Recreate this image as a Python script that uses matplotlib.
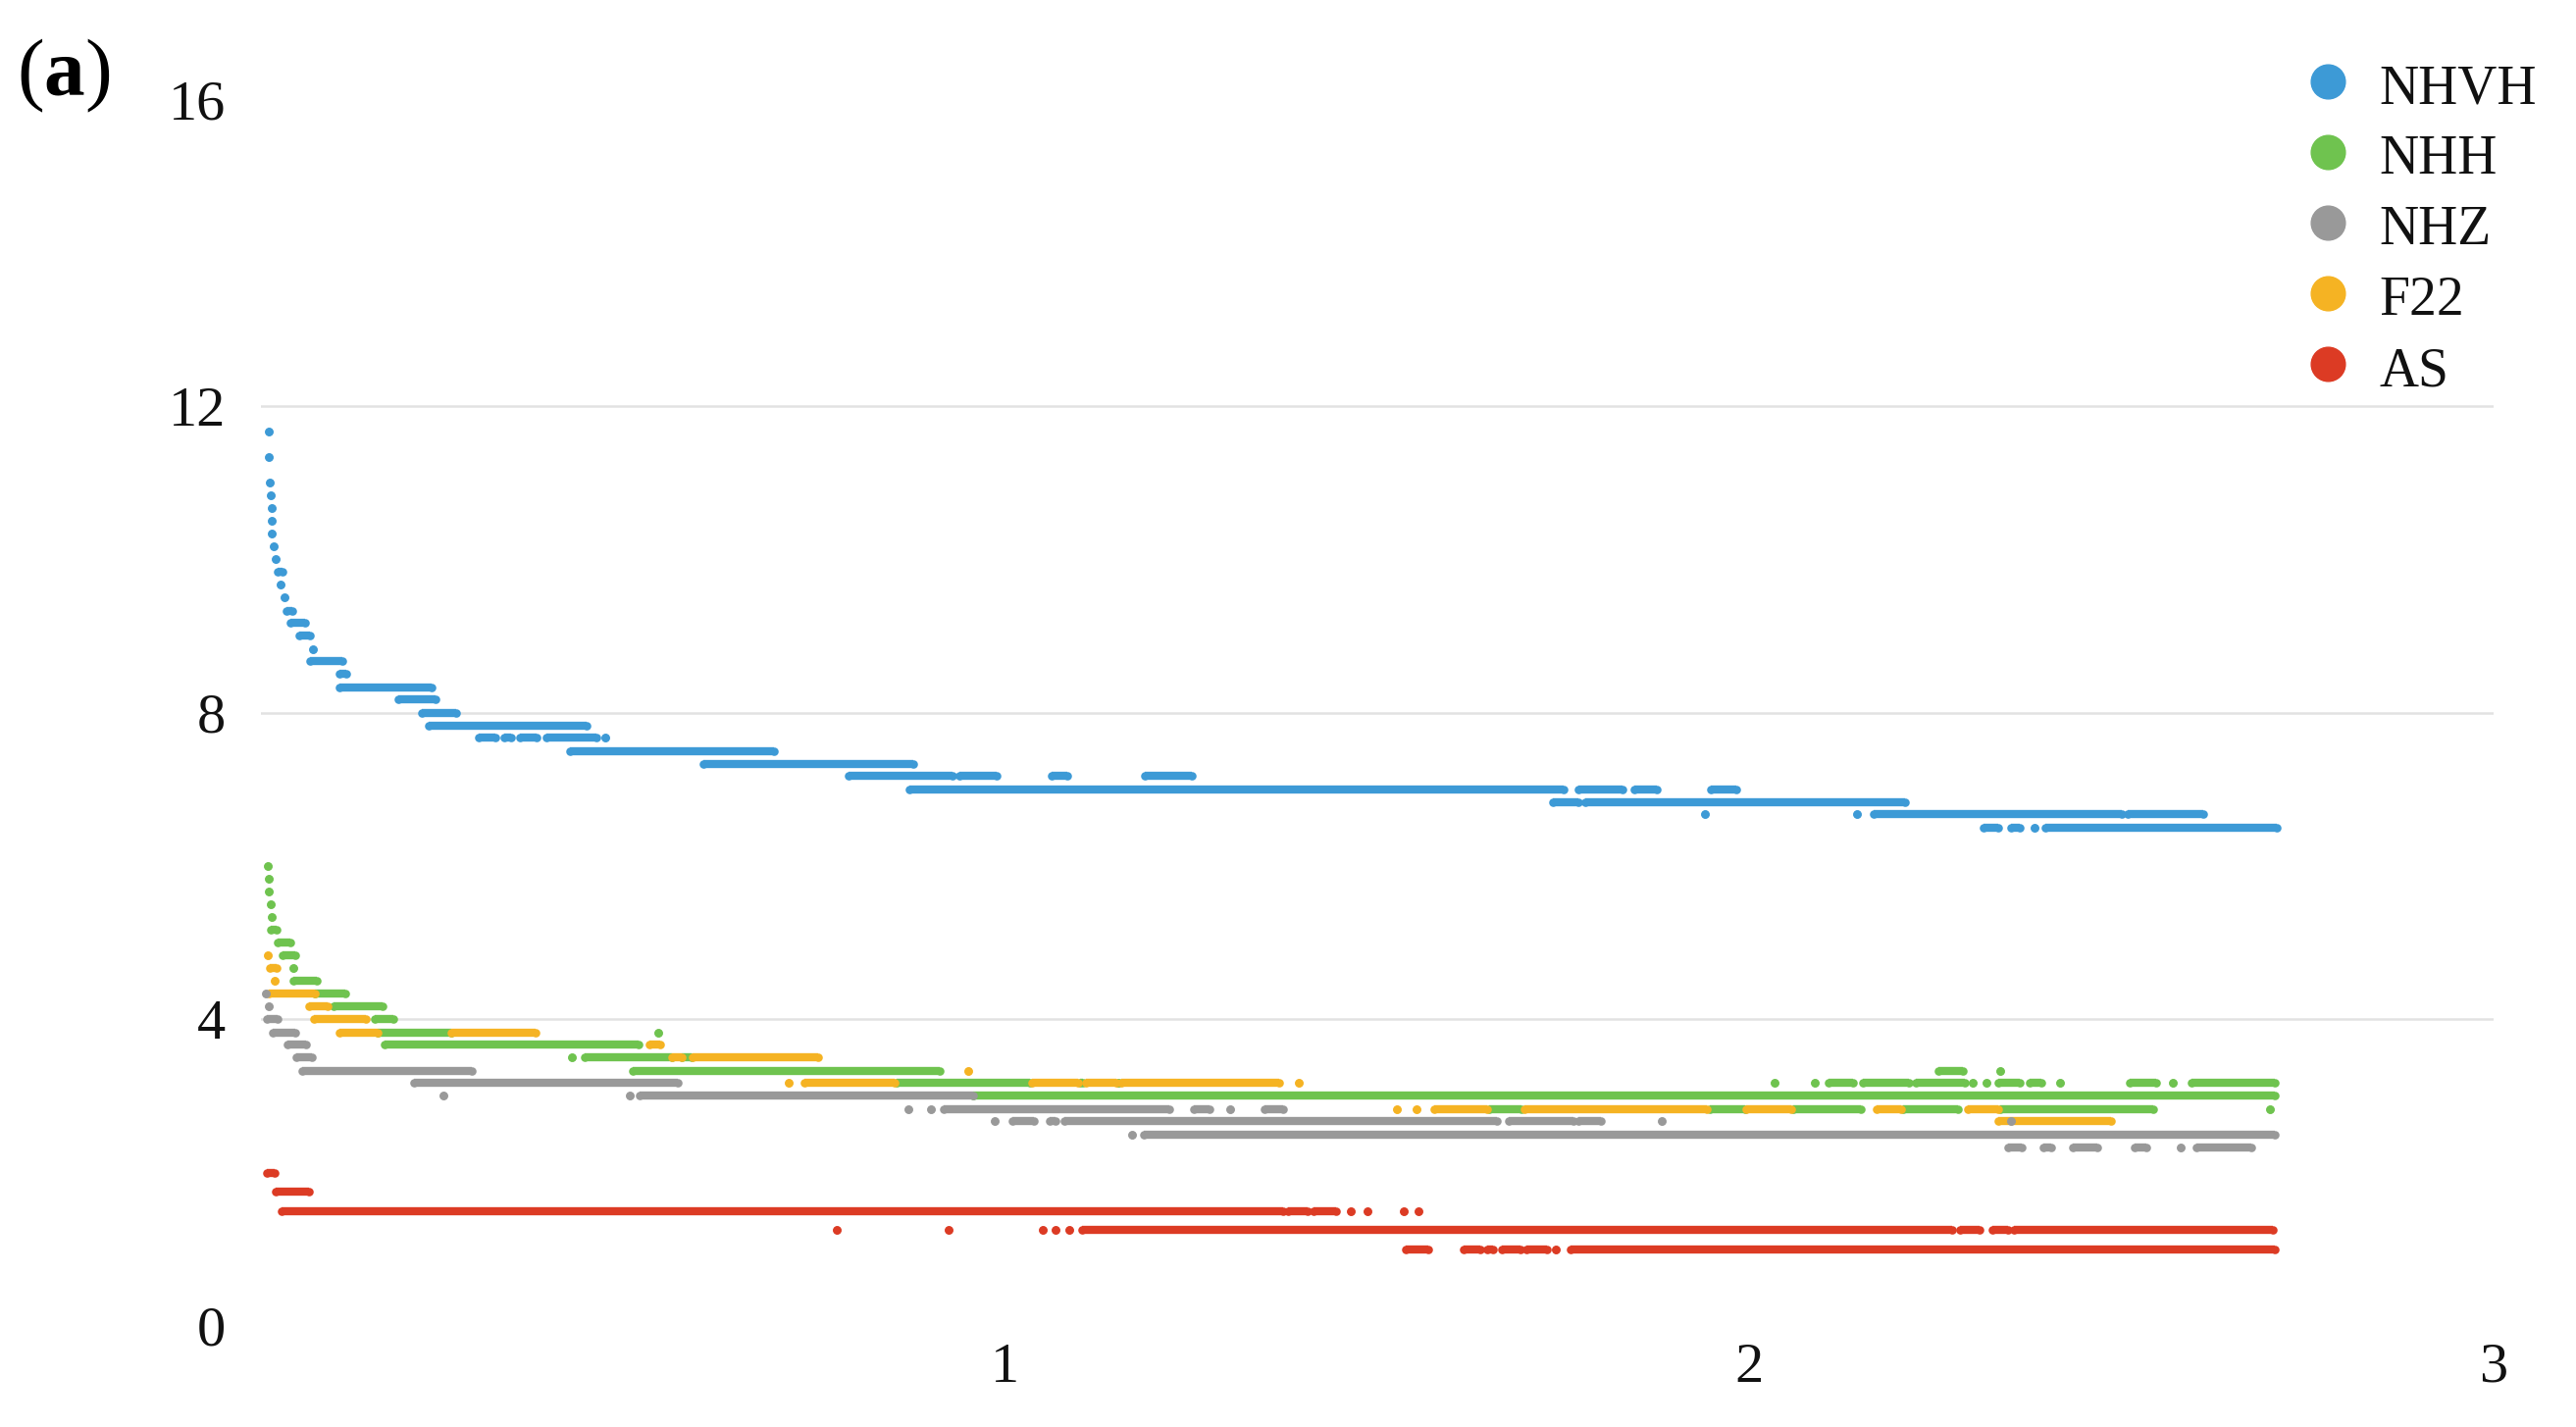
import matplotlib
matplotlib.use("Agg")
import matplotlib.pyplot as plt
from matplotlib.lines import Line2D

plt.rcParams['font.family'] = ['Liberation Serif', 'DejaVu Serif']
plt.rcParams['mathtext.fontset'] = 'custom'
plt.rcParams['mathtext.rm'] = 'Liberation Serif'
plt.rcParams['mathtext.bf'] = 'Liberation Serif:bold'

# each series is a set of horizontal runs of dots: level y, from x0 to x1
NHVH_Y = [11.67, 11.33, 11.0, 10.83, 10.67, 10.5, 10.33, 10.17, 10.0, 9.83, 9.67, 9.5,
          9.33, 9.17, 9.0, 8.83, 8.67, 8.5, 8.33, 8.17, 8.0, 7.83,
          7.67, 7.67, 7.67, 7.67, 7.67, 7.5, 7.33,
          7.17, 7.17, 7.17, 7.17, 7.0, 7.0, 7.0, 7.0, 6.83, 6.83,
          6.67, 6.67, 6.67, 6.67, 6.5, 6.5, 6.5, 6.5]
NHVH_X0 = [0.010, 0.010, 0.012, 0.013, 0.014, 0.014, 0.015, 0.017, 0.020, 0.022, 0.026, 0.031,
           0.034, 0.040, 0.052, 0.070, 0.066, 0.106, 0.106, 0.185, 0.216, 0.225,
           0.292, 0.327, 0.348, 0.383, 0.463, 0.415, 0.595,
           0.790, 0.938, 1.062, 1.188, 0.871, 1.770, 1.846, 1.948, 1.736, 1.780,
           1.940, 2.144, 2.167, 2.508, 2.314, 2.352, 2.383, 2.398]
NHVH_X1 = [0.010, 0.010, 0.012, 0.013, 0.014, 0.014, 0.015, 0.017, 0.020, 0.029, 0.026, 0.031,
           0.042, 0.059, 0.066, 0.070, 0.110, 0.115, 0.230, 0.235, 0.262, 0.438,
           0.315, 0.336, 0.371, 0.451, 0.463, 0.690, 0.877,
           0.929, 0.989, 1.083, 1.251, 1.751, 1.830, 1.876, 1.982, 1.770, 2.209,
           1.940, 2.144, 2.500, 2.610, 2.334, 2.364, 2.383, 2.709]

NHH_Y = [6.0, 5.83, 5.67, 5.5, 5.33, 5.17, 5.0, 4.83, 4.67, 4.5, 4.33, 4.17, 4.0,
         3.83, 3.83, 3.67, 3.5, 3.5, 3.5, 3.33, 3.33, 3.33,
         3.17, 3.17, 3.17, 3.17, 3.17, 3.17, 3.17, 3.17, 3.17, 3.17, 3.17, 3.17, 3.17,
         3.17, 3.17, 3.17, 3.0,
         2.83, 2.83, 2.83, 2.83, 2.83, 2.83]
NHH_X0 = [0.009, 0.010, 0.010, 0.013, 0.015, 0.013, 0.022, 0.029, 0.044, 0.044, 0.073, 0.098, 0.153,
          0.157, 0.534, 0.166, 0.418, 0.435, 0.566, 0.500, 2.254, 2.337,
          0.854, 1.100, 1.152, 2.034, 2.088, 2.106, 2.153, 2.223, 2.300, 2.318, 2.334, 2.377, 2.417,
          2.511, 2.569, 2.594, 0.957,
          1.650, 1.947, 2.059, 2.207, 2.337, 2.699]
NHH_X1 = [0.009, 0.010, 0.010, 0.013, 0.015, 0.021, 0.040, 0.046, 0.044, 0.075, 0.113, 0.164, 0.178,
          0.256, 0.534, 0.507, 0.418, 0.552, 0.578, 0.912, 2.287, 2.337,
          1.033, 1.105, 1.152, 2.034, 2.088, 2.139, 2.215, 2.290, 2.300, 2.318, 2.363, 2.392, 2.417,
          2.547, 2.569, 2.706, 2.706,
          1.694, 1.994, 2.150, 2.280, 2.543, 2.699]

NHZ_Y = [4.33, 4.17, 4.0, 3.83, 3.67, 3.5, 3.33, 3.17, 3.0, 3.0, 3.0,
         2.83, 2.83, 2.83, 2.83, 2.83, 2.83,
         2.67, 2.67, 2.67, 2.67, 2.67, 2.67, 2.67, 2.67, 2.5, 2.5,
         2.33, 2.33, 2.33, 2.33, 2.33, 2.33]
NHZ_X0 = [0.007, 0.010, 0.008, 0.016, 0.035, 0.048, 0.055, 0.206, 0.245, 0.496, 0.509,
          0.870, 0.900, 0.918, 1.254, 1.302, 1.348,
          0.986, 1.010, 1.060, 1.080, 1.676, 1.770, 1.882, 2.352, 1.171, 1.186,
          2.348, 2.395, 2.435, 2.518, 2.580, 2.600]
NHZ_X1 = [0.007, 0.010, 0.022, 0.046, 0.061, 0.069, 0.284, 0.560, 0.245, 0.496, 0.957,
          0.870, 0.900, 1.221, 1.274, 1.302, 1.374,
          0.986, 1.039, 1.068, 1.661, 1.763, 1.800, 1.882, 2.352, 1.171, 2.706,
          2.366, 2.406, 2.468, 2.533, 2.580, 2.674]

F22_Y = [4.83, 4.67, 4.5, 4.33, 4.17, 4.0, 3.83, 3.83, 3.67, 3.5, 3.5, 3.33,
         3.17, 3.17, 3.17, 3.17, 3.17, 3.17,
         2.83, 2.83, 2.83, 2.83, 2.83, 2.83, 2.83, 2.67]
F22_X0 = [0.009, 0.012, 0.019, 0.011, 0.065, 0.071, 0.106, 0.256, 0.522, 0.552, 0.580, 0.950,
          0.709, 0.730, 1.036, 1.109, 1.156, 1.395,
          1.527, 1.553, 1.577, 1.698, 1.996, 2.171, 2.294, 2.334]
F22_X1 = [0.009, 0.021, 0.019, 0.073, 0.090, 0.141, 0.157, 0.369, 0.537, 0.566, 0.749, 0.950,
          0.709, 0.852, 1.098, 1.150, 1.368, 1.395,
          1.527, 1.553, 1.647, 1.943, 2.056, 2.204, 2.334, 2.486]

AS_Y = [2.0, 1.75, 1.5, 1.5, 1.5, 1.5, 1.5, 1.5, 1.5,
        1.25, 1.25, 1.25, 1.25, 1.25, 1.25, 1.25, 1.25, 1.25,
        1.0, 1.0, 1.0, 1.0, 1.0, 1.0, 1.0]
AS_X0 = [0.008, 0.020, 0.028, 1.380, 1.414, 1.465, 1.487, 1.536, 1.555,
         0.774, 0.924, 1.050, 1.068, 1.086, 1.103, 2.283, 2.327, 2.355,
         1.538, 1.616, 1.648, 1.668, 1.700, 1.740, 1.760]
AS_X1 = [0.018, 0.064, 1.374, 1.407, 1.444, 1.465, 1.487, 1.536, 1.555,
         0.774, 0.924, 1.050, 1.068, 1.086, 2.272, 2.309, 2.348, 2.703,
         1.568, 1.638, 1.655, 1.692, 1.728, 1.740, 2.706]

series = [
    ("NHVH", "#3d9ad6", NHVH_Y, NHVH_X0, NHVH_X1),
    ("NHH", "#6fc34f", NHH_Y, NHH_X0, NHH_X1),
    ("F22", "#f5b323", F22_Y, F22_X0, F22_X1),
    ("NHZ", "#999999", NHZ_Y, NHZ_X0, NHZ_X1),
    ("AS", "#dc3b24", AS_Y, AS_X0, AS_X1),
]
legend_order = ["NHVH", "NHH", "NHZ", "F22", "AS"]
colors = {name: c for name, c, *_ in series}

W, H = 2626, 1455
fig = plt.figure(figsize=(W / 100, H / 100), dpi=100)
ax = fig.add_axes([266 / W, (H - 1352) / H, (2542 - 266) / W, (1352 - 101) / H])

for g in [4, 8, 12]:
    ax.axhline(g, color="#e2e2e2", lw=1.8, zorder=0)

for name, c, ys, x0, x1 in series:
    ax.hlines(ys, x0, x1, colors=c, lw=6, zorder=2)
    ax.scatter(x0 + x1, ys + ys, s=38, color=c, lw=0, zorder=2)

ax.set_xlim(0, 3)
ax.set_ylim(0, 16)
ax.set_xticks([1, 2, 3])
ax.set_yticks([0, 4, 8, 12, 16])
ax.tick_params(axis="both", length=0, labelsize=42, colors="#111111")
ax.tick_params(axis="x", pad=12)
ax.tick_params(axis="y", pad=26)
for s in ax.spines.values():
    s.set_visible(False)

# legend
for i, name in enumerate(legend_order):
    yc = 1 - (83 + 72 * i) / H
    fig.add_artist(Line2D([2373 / W], [yc], marker="o", markersize=25, color=colors[name],
                          lw=0, transform=fig.transFigure))
    fig.text(2425 / W, yc - 22 / H, name, fontsize=40, va="baseline", ha="left", color="#111111")

fig.text(17 / W, 1 - 38 / H, r"($\mathbf{a}$)", fontsize=60, va="top", ha="left")

fig.savefig("out.png", dpi=100)
